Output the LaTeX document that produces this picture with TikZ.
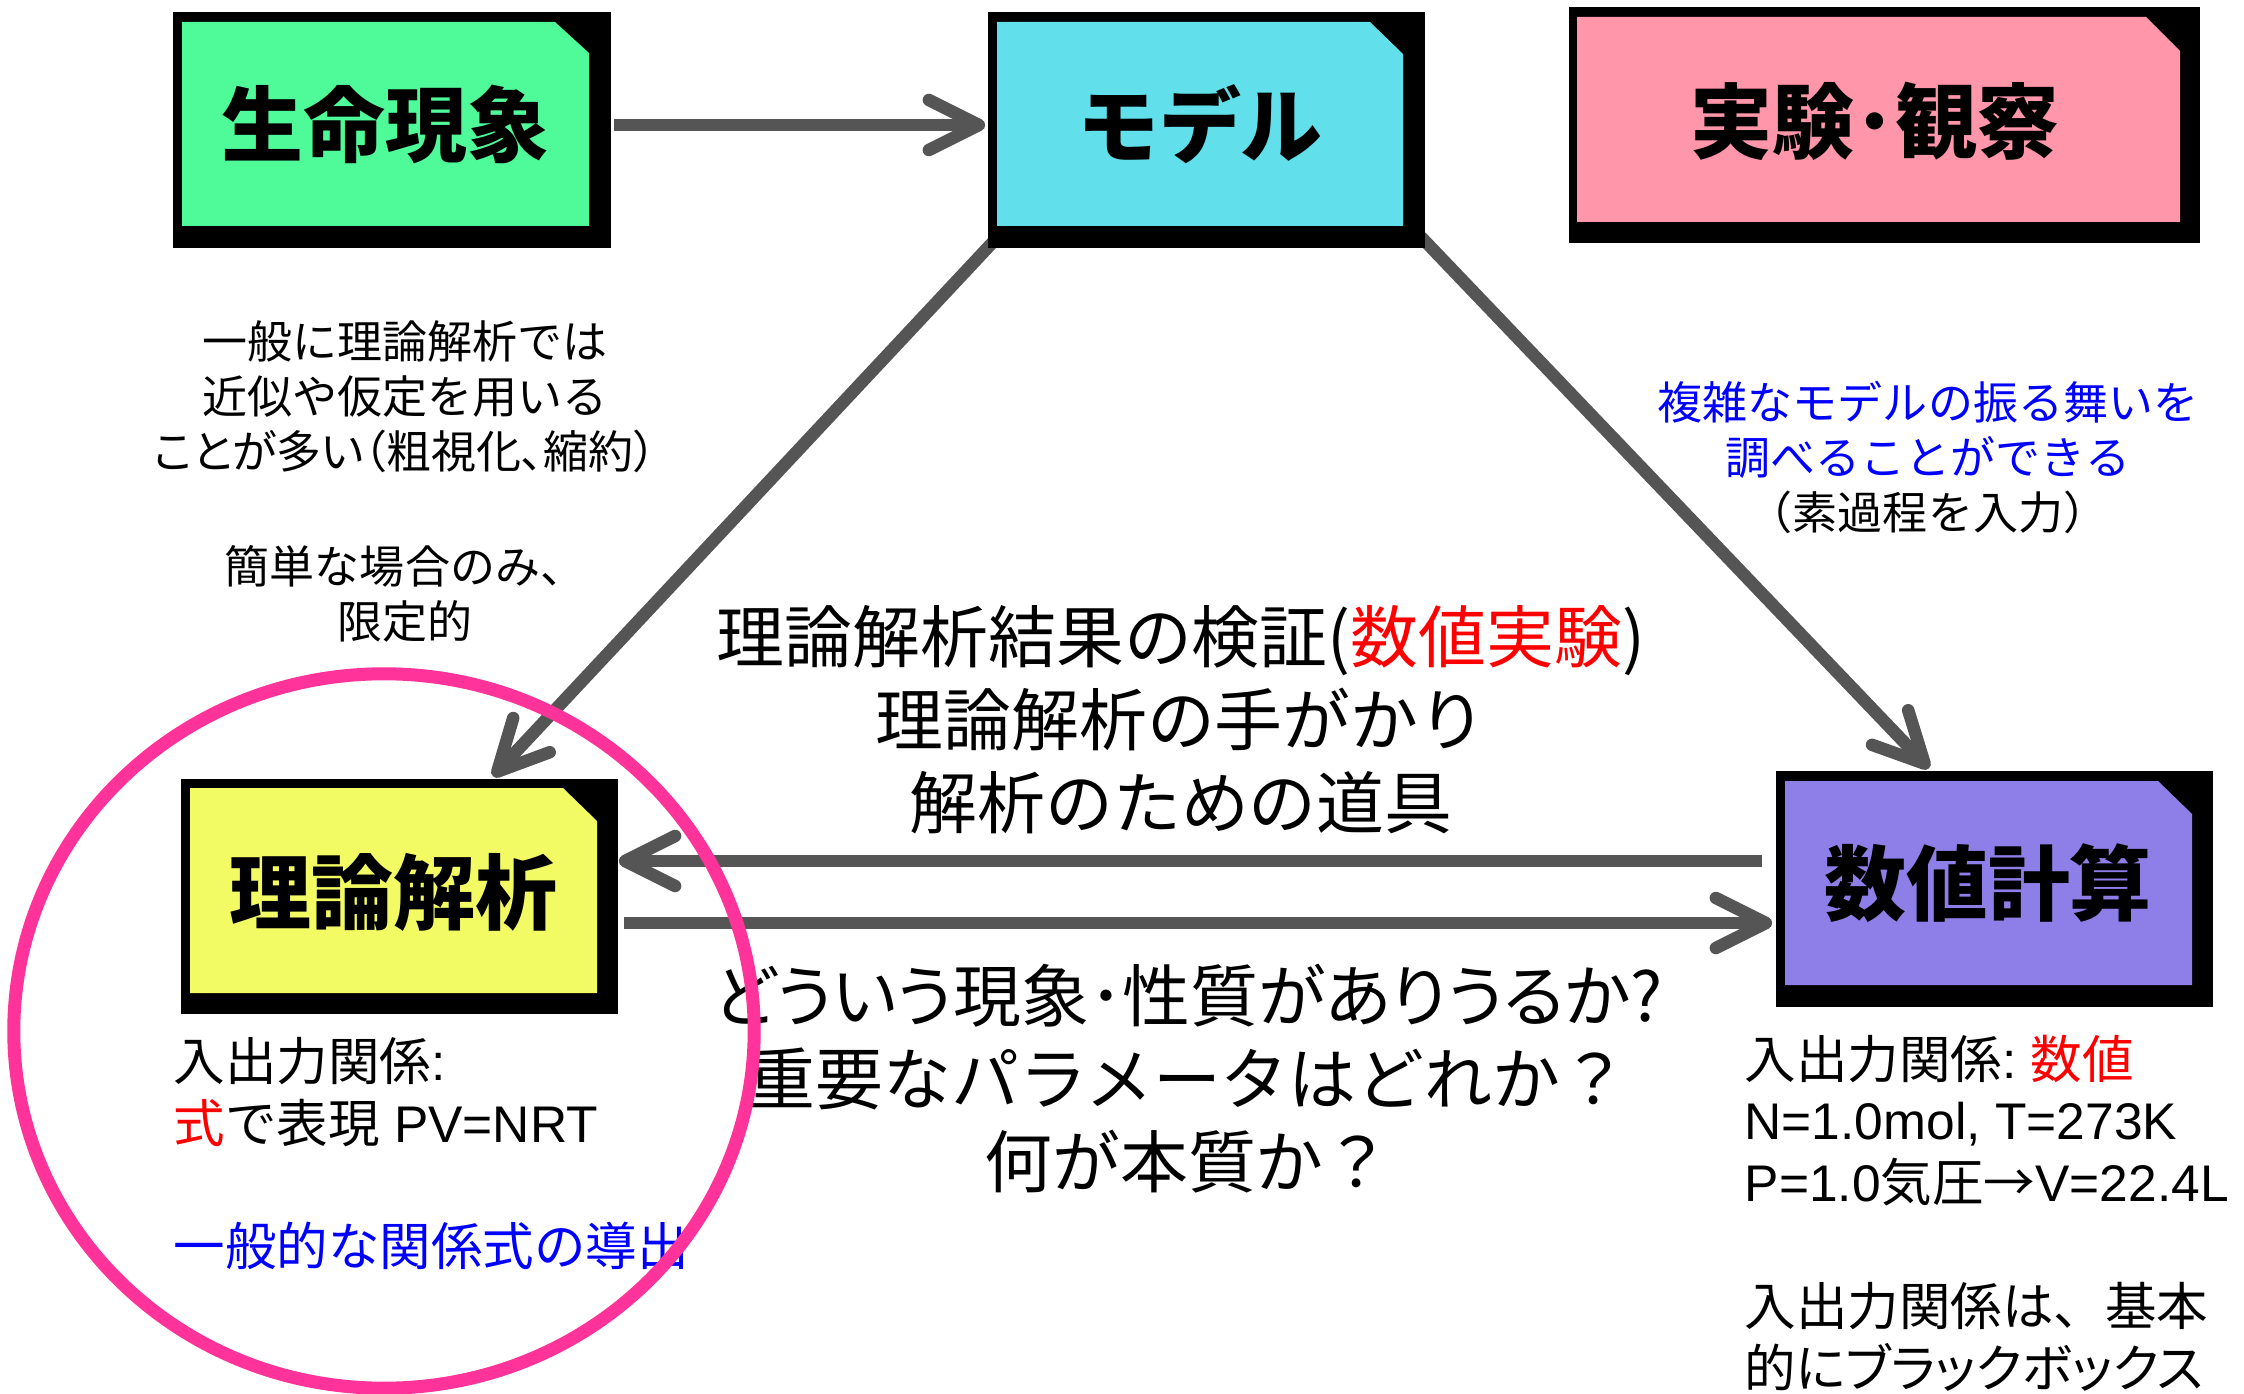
\documentclass[tikz,border=0pt]{standalone}
\usepackage{fontspec}
\setmainfont{Noto Sans CJK JP}
\newfontfamily\lat{Liberation Sans}
\newfontfamily\jpp[RawFeature=+palt]{Noto Sans CJK JP}
\usetikzlibrary{arrows.meta,calc}
\definecolor{cgreen}{RGB}{79,250,152}
\definecolor{ccyan}{RGB}{97,224,236}
\definecolor{cpink}{RGB}{255,150,170}
\definecolor{cyellow}{RGB}{242,250,100}
\definecolor{cpurple}{RGB}{142,127,232}
\definecolor{carrow}{RGB}{85,85,85}
\definecolor{ccircle}{RGB}{255,51,153}
\definecolor{cblue}{RGB}{0,0,255}
\definecolor{cred}{RGB}{255,0,0}
\tikzset{
  outerbox/.style={fill=black, draw=none, inner sep=0pt, minimum height=2.36cm},
  titletext/.style={font=\fontsize{23.3pt}{28pt}\selectfont\bfseries, inner sep=0pt},
  arr/.style={draw=carrow, line width=0.125cm, -{Straight Barb[length=5mm,width=5mm,round]}},
  txtS/.style={font=\fontsize{12.8pt}{15.6pt}\selectfont, inner sep=0pt},
  txtM/.style={font=\fontsize{19.3pt}{23.6pt}\selectfont, inner sep=0pt},
  txtB/.style={font=\fontsize{14.65pt}{17.6pt}\selectfont, inner sep=0pt},
}
\begin{document}
\begin{tikzpicture}[x=0.01cm,y=-0.01cm]
\useasboundingbox (0,0) rectangle (2244,1394);
\fill[white] (0,0) rectangle (2244,1394);

% outer black frames (named)
\node[outerbox, minimum width=4.38cm] (sei) at (392,130) {};
\node[outerbox, minimum width=4.37cm] (model) at (1206.5,130) {};
\node[outerbox, minimum width=6.31cm] (jikken) at (1884.5,125) {};
\node[outerbox, minimum width=4.37cm, minimum height=2.35cm] (riron) at (399.5,896.5) {};
\node[outerbox, minimum width=4.37cm] (suchi) at (1994.5,889) {};

% connectors
\draw[arr] ($(sei.east)+(2,-5)$) -- ($(model.west)+(-2,-5)$);
\draw[arr] ($(model.south west)+(7,-8)$) -- ($(riron.north)+(93.5,-2)$);
\draw[arr] ($(model.south east)+(-5,-12)$) -- ($(suchi.north)+(-65.5,-2)$);
\draw[arr] ($(suchi.west)+(-13,-28)$) -- ($(riron.east)+(0,-35.5)$);
\draw[arr] ($(riron.east)+(5,26.5)$) -- ($(suchi.west)+(-3,34)$);

% redraw frame over connector starts
\fill[black] (988,12) rectangle (1425,248);

% coloured fills with cut corners
\fill[cgreen] (182,22) -- (555,22) -- (589,53) -- (589,226) -- (182,226) -- cycle;
\fill[ccyan] (997,22) -- (1370,22) -- (1403,54) -- (1403,226) -- (997,226) -- cycle;
\fill[cpink] (1577,17) -- (2146,17) -- (2180,51) -- (2180,222) -- (1577,222) -- cycle;
\fill[cyellow] (190,788) -- (563,788) -- (597,821) -- (597,993) -- (190,993) -- cycle;
\fill[cpurple] (1785,781) -- (2158,781) -- (2192,814) -- (2192,985) -- (1785,985) -- cycle;

% titles
\node[titletext] (tsei) at (385.5,124) {生命現象};
\node[titletext] (tmodel) at (1200,124) {モデル};
\node[titletext] (tjikken) at (1875,121) {実験･観察};
\node[titletext] (triron) at (393.5,892) {理論解析};
\node[titletext] (tsuchi) at (1988,883) {数値計算};

% texts
\node[txtS, align=center] (tl1) at (405,396.5) {一般に理論解析では\\近似や仮定を用いる\\{\jpp ことが多い（粗視化、縮約）}};
\node[txtS, align=center] (tl2) at (405,594) {簡単な場合のみ、\\限定的};
\node[txtS, align=center] (tr1) at (1928,457.5) {\textcolor{cblue}{複雑なモデルの振る舞いを}\\\textcolor{cblue}{調べることができる}\\（素過程を入力）};
\node[txtM, align=center] (c1) at (1181,720) {理論解析結果の検証(\textcolor{cred}{数値実験})\\理論解析の手がかり\\解析のための道具};
\node[txtM, align=center] (c2) at (1188,1078.5) {{\jpp どういう現象･性質がありうるか?}\\重要なパラメータはどれか？\\何が本質か？};
\node[txtB, align=left, anchor=west] (bl) at (173,1153.5) {入出力関係{\lat :}\\\textcolor{cred}{式}で表現{\lat\ PV=NRT}\\[17.6pt]\textcolor{cblue}{一般的な関係式の導出}};
\node[txtB, align=left, anchor=west] (br) at (1744,1213) {入出力関係{\lat :\ }\textcolor{cred}{数値}\\{\lat N=1.0mol, T=273K}\\{\lat P=1.0}気圧→{\lat V=22.4L}\\[17.6pt]入出力関係は、基本\\{\jpp 的にブラックボックス}};

% pink circle
\draw[ccircle, line width=0.13cm] (384,1031) ellipse [x radius=3.70cm, y radius=3.57cm];
\end{tikzpicture}
\end{document}
